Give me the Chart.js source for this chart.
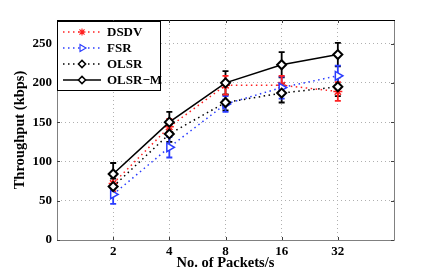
<!DOCTYPE html>
<html><head><meta charset="utf-8">
<script src="https://cdn.jsdelivr.net/npm/chart.js@4/dist/chart.umd.min.js"></script>
<style>html,body{margin:0;padding:0;background:#fff}#wrap{width:436px;height:273px}</style>
</head><body><div id="wrap"><canvas id="c" width="436" height="273"></canvas></div>
<script>
const categories = ['2','4','8','16','32'];
const seriesNames = ['DSDV','FSR','OLSR','OLSR\u2212M'];
const dsdv   = [72, 144, 197, 197, 189];
const fsr    = [58, 118, 173, 194, 209];
const olsr   = [68, 135, 175, 187, 195];
const olsrm  = [84, 150, 200, 223, 236];
const dsdvErr  = [10, 10, 12, 12, 12];
const fsrErr   = [12, 13, 10, 14, 13];
const olsrErr  = [10, 10, 10, 12, 12];
const olsrmErr = [14, 13, 15, 16, 15];
const yTicks = [0, 50, 100, 150, 200, 250];

const FONT = '"Liberation Serif", "Times New Roman", serif';
const mk = (vals) => vals.map((v, i) => ({x: i, y: v}));

const datasets = [
  {label: seriesNames[0], data: mk(dsdv), err: dsdvErr, borderColor: '#ff2020', backgroundColor: '#ff2020',
   borderDash: [1.5, 3.5], borderWidth: 1.5, pointStyle: 'star', pointRadius: 4.5, pointBorderWidth: 1.5,
   pointBorderColor: '#ff2020', pointBackgroundColor: '#ff2020', order: 4},
  {label: seriesNames[1], data: mk(fsr), err: fsrErr, borderColor: '#2a3cff', backgroundColor: '#ffffff',
   borderDash: [1.5, 3.5], borderWidth: 1.5, pointStyle: 'triangle', rotation: 90, pointRadius: 5, pointBorderWidth: 1.5,
   pointBorderColor: '#2a3cff', pointBackgroundColor: '#ffffff', order: 3},
  {label: seriesNames[2], data: mk(olsr), err: olsrErr, borderColor: '#000000', backgroundColor: '#ffffff',
   borderDash: [1.5, 3.5], borderWidth: 1.5, pointStyle: 'rectRot', pointRadius: 4.5, pointBorderWidth: 2,
   pointBorderColor: '#000', pointBackgroundColor: '#ffffff', order: 2},
  {label: seriesNames[3], data: mk(olsrm), err: olsrmErr, borderColor: '#000000', backgroundColor: '#ffffff',
   borderWidth: 1.6, pointStyle: 'rectRot', pointRadius: 4.5, pointBorderWidth: 2,
   pointBorderColor: '#000', pointBackgroundColor: '#ffffff', order: 1}
];

const errPlugin = {
  id: 'errbars',
  beforeDatasetsDraw(chart) {
    const ctx = chart.ctx, xs = chart.scales.x, ys = chart.scales.y;
    ctx.save();
    chart.data.datasets.slice().reverse().forEach(ds => {
      ctx.strokeStyle = ds.borderColor;
      ctx.lineWidth = 1.8;
      ctx.setLineDash([]);
      ds.data.forEach((p, i) => {
        const x = xs.getPixelForValue(p.x);
        const y1 = ys.getPixelForValue(p.y - ds.err[i]);
        const y2 = ys.getPixelForValue(p.y + ds.err[i]);
        ctx.beginPath();
        ctx.moveTo(x, y1); ctx.lineTo(x, y2);
        ctx.moveTo(x - 3, y1); ctx.lineTo(x + 3, y1);
        ctx.moveTo(x - 3, y2); ctx.lineTo(x + 3, y2);
        ctx.stroke();
      });
    });
    ctx.restore();
  },
  afterDraw(chart) {
    const ctx = chart.ctx, a = chart.chartArea;
    ctx.save();
    ctx.setLineDash([]);
    ctx.lineWidth = 1;
    ctx.strokeStyle = '#808080';
    ctx.beginPath();
    ctx.moveTo(a.left + 0.5, a.top); ctx.lineTo(a.left + 0.5, a.bottom + 0.5);
    ctx.lineTo(a.right + 0.5, a.bottom + 0.5); ctx.lineTo(a.right + 0.5, a.top);
    ctx.stroke();
    ctx.strokeStyle = '#000';
    ctx.beginPath();
    ctx.moveTo(a.left, a.top + 0.5); ctx.lineTo(a.right + 1, a.top + 0.5);
    ctx.stroke();
    const xs = chart.scales.x, ys = chart.scales.y;
    ctx.strokeStyle = '#404040';
    ctx.beginPath();
    for (let i = 0; i < categories.length; i++) {
      const x = Math.round(xs.getPixelForValue(i)) + 0.5;
      ctx.moveTo(x, a.bottom); ctx.lineTo(x, a.bottom - 3);
      ctx.moveTo(x, a.top); ctx.lineTo(x, a.top + 3);
    }
    yTicks.forEach(v => {
      const y = Math.round(ys.getPixelForValue(v)) + 0.5;
      ctx.moveTo(a.left, y); ctx.lineTo(a.left + 3, y);
      ctx.moveTo(a.right, y); ctx.lineTo(a.right - 3, y);
    });
    ctx.stroke();
    // legend
    const lx = 57, ly = 21, lw = 103, lh = 69;
    ctx.fillStyle = '#fff';
    ctx.fillRect(lx, ly, lw, lh);
    ctx.strokeStyle = '#000';
    ctx.lineWidth = 1;
    ctx.strokeRect(lx + 0.5, ly + 0.5, lw, lh);
    ctx.font = 'bold 13px ' + FONT;
    ctx.textBaseline = 'middle';
    chart.data.datasets.forEach((ds, i) => {
      const y = ly + 11 + i * 16;
      ctx.strokeStyle = ds.borderColor;
      ctx.lineWidth = ds.borderWidth;
      ctx.setLineDash(ds.borderDash || []);
      ctx.beginPath(); ctx.moveTo(lx + 6, y); ctx.lineTo(lx + 44, y); ctx.stroke();
      ctx.setLineDash([]);
      ctx.strokeStyle = ds.pointBorderColor;
      ctx.fillStyle = ds.pointBackgroundColor;
      ctx.lineWidth = ds.pointBorderWidth * 0.75;
      Chart.helpers.drawPoint(ctx, {pointStyle: ds.pointStyle, rotation: ds.rotation || 0,
        radius: ds.pointRadius * 0.8, borderWidth: ds.pointBorderWidth * 0.75}, lx + 25, y);
      ctx.fillStyle = '#000';
      ctx.fillText(ds.label, lx + 50, y + 1);
    });
    ctx.restore();
  }
};

new Chart(document.getElementById('c'), {
  type: 'line',
  data: {datasets},
  plugins: [errPlugin],
  options: {
    responsive: false,
    animation: false,
    events: [],
    layout: {padding: {top: 20, right: 42, left: 0, bottom: 0}},
    plugins: {legend: {display: false}, tooltip: {enabled: false}},
    scales: {
      x: {
        type: 'linear', min: -1, max: 5,
        afterBuildTicks(s) { s.ticks = categories.map((c, i) => ({value: i})); },
        afterFit(s) { s.height = 33; },
        ticks: {callback: (v) => categories[v] ?? '', color: '#000', padding: 4,
          font: {family: FONT, size: 13, weight: 'bold'}, maxRotation: 0},
        grid: {color: '#b0b0b0', lineWidth: 1, drawTicks: false},
        border: {display: false, dash: [1, 3]},
        title: {display: true, text: 'No. of Packets/s', color: '#000', padding: {top: 0, bottom: 1},
          font: {family: FONT, size: 14.5, weight: 'bold'}}
      },
      y: {
        min: 0, max: 280,
        afterBuildTicks(s) { s.ticks = yTicks.map(v => ({value: v})); },
        afterFit(s) { s.width = 57; },
        ticks: {color: '#000', padding: 5, font: {family: FONT, size: 13, weight: 'bold'}},
        grid: {color: '#b0b0b0', lineWidth: 1, drawTicks: false},
        border: {display: false, dash: [1, 3]},
        title: {display: true, text: 'Throughput (kbps)', color: '#000', padding: {top: 12, bottom: 0},
          font: {family: FONT, size: 14.5, weight: 'bold'}}
      }
    }
  }
});
</script></body></html>
